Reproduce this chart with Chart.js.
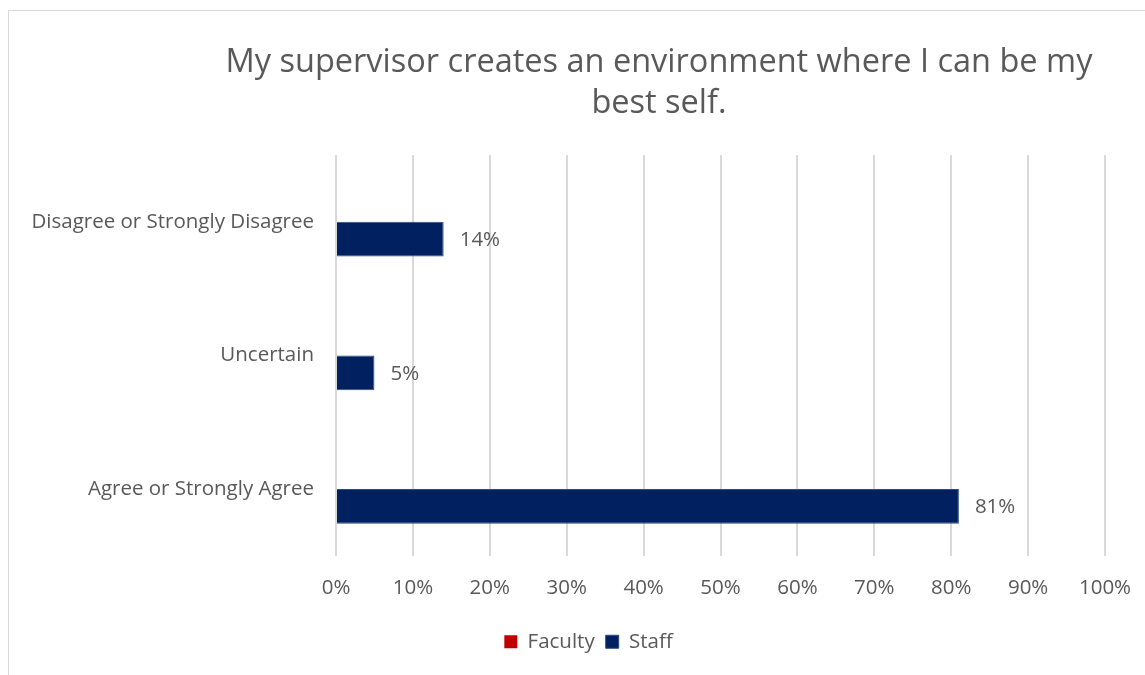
<!DOCTYPE html>
<html>
<head>
<meta charset="utf-8">
<script src="https://cdn.jsdelivr.net/npm/chart.js@4/dist/chart.umd.min.js"></script>
<style>
  body { margin: 0; background: #fff; }
  #frame { position: absolute; left: 8px; top: 10px; width: 1200px; height: 700px; border: 1px solid #d9d9d9; }
  #wrap { position: absolute; left: 0; top: 0; width: 1145px; height: 675px; }
</style>
</head>
<body>
<div id="frame"></div>
<div id="wrap"><canvas id="myChart"></canvas></div>
<script>
let labels = ['Disagree or Strongly Disagree', 'Uncertain', 'Agree or Strongly Agree'];
let faculty = [null, null, null];
let staff = [14, 5, 81];
let ticks = [0, 10, 20, 30, 40, 50, 60, 70, 80, 90, 100];
let titleLines = ['My supervisor creates an environment where I can be my', 'best self.'];

let fontFamily = '"Open Sans", "Noto Sans", sans-serif';
let grey = '#595959';
let textSize = 20.5;

// title centred over its own spot, like the original
let titlePlugin = {
    id: 'titleText',
    afterDraw(chart) {
        let ctx = chart.ctx;
        ctx.save();
        ctx.font = '32.5px ' + fontFamily;
        ctx.fillStyle = grey;
        ctx.textAlign = 'center';
        ctx.textBaseline = 'middle';
        titleLines.forEach((line, i) => ctx.fillText(line, 659, 63 + i * 41));
        ctx.restore();
    }
};

// legend sits a bit right of the canvas centre in the original
let legendShift = {
    id: 'legendShift',
    afterLayout(chart) {
        chart.legend.left += 36;
        chart.legend.right += 36;
    }
};

// value labels at the end of the staff bars
let valuePlugin = {
    id: 'valueLabels',
    afterDatasetsDraw(chart) {
        let ctx = chart.ctx;
        let meta = chart.getDatasetMeta(1);
        ctx.save();
        ctx.font = textSize + 'px ' + fontFamily;
        ctx.fillStyle = grey;
        ctx.textAlign = 'left';
        ctx.textBaseline = 'middle';
        meta.data.forEach((bar, i) => {
            ctx.fillText(staff[i] + '%', bar.x + 16, bar.y + 1);
        });
        ctx.restore();
    }
};

let myChart = document.getElementById('myChart').getContext('2d');

let chart = new Chart(myChart, {
    type: 'bar',
    data: {
        labels: labels,
        datasets: [
            {
                label: 'Faculty',
                data: faculty,
                backgroundColor: '#c00000'
            },
            {
                label: 'Staff',
                data: staff,
                backgroundColor: '#002060',
                borderColor: '#2c4a80',
                borderWidth: 1
            }
        ]
    },
    options: {
        indexAxis: 'y',
        responsive: true,
        maintainAspectRatio: false,
        animation: false,
        layout: {
            padding: { left: 0, right: 40, top: 155, bottom: 13 }
        },
        datasets: {
            bar: { barPercentage: 1, categoryPercentage: 0.52 }
        },
        scales: {
            x: {
                min: 0,
                max: 100,
                afterBuildTicks(scale) {
                    scale.ticks = ticks.map(v => ({ value: v }));
                },
                // keep the plot's right edge at the layout padding
                afterFit(scale) { scale.paddingRight = 0; },
                ticks: {
                    callback: v => v + '%',
                    color: grey,
                    font: { family: fontFamily, size: textSize },
                    padding: 20
                },
                grid: { color: '#d9d9d9', lineWidth: 2, drawTicks: false },
                border: { display: false }
            },
            y: {
                afterFit(scale) { scale.width = 336; },
                ticks: {
                    color: grey,
                    font: { family: fontFamily, size: textSize },
                    padding: 14
                },
                grid: { display: false },
                border: { display: false }
            }
        },
        plugins: {
            legend: {
                position: 'bottom',
                labels: {
                    color: grey,
                    font: { family: fontFamily, size: textSize },
                    boxWidth: 13,
                    boxHeight: 13,
                    padding: 11
                }
            },
            tooltip: { enabled: false }
        }
    },
    plugins: [titlePlugin, legendShift, valuePlugin]
});
</script>
</body>
</html>
